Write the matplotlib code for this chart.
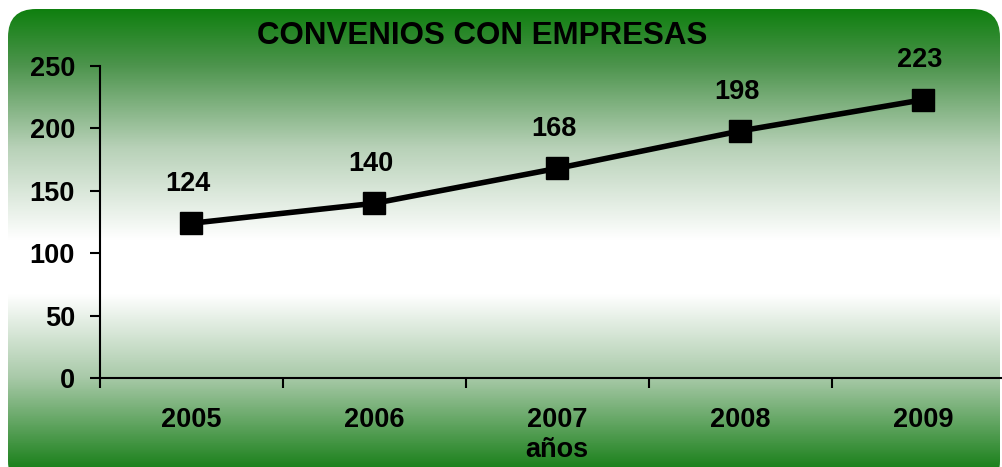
import numpy as np
import matplotlib
matplotlib.use("Agg")
import matplotlib.pyplot as plt
from matplotlib.patches import FancyBboxPatch
from matplotlib.colors import LinearSegmentedColormap

years = ["2005", "2006", "2007", "2008", "2009"]
values = [124, 140, 168, 198, 223]
yticks = [0, 50, 100, 150, 200, 250]
title = "CONVENIOS CON EMPRESAS"
xlabel = "años"

W, H = 1003, 467
fig = plt.figure(figsize=(W / 100, H / 100), dpi=100)
plt.rcParams['font.family'] = ['Liberation Sans', 'DejaVu Sans']
FS = 19.5

# background rounded gradient panel
bg = fig.add_axes([0, 0, 1, 1])
bg.set_xlim(0, W)
bg.set_ylim(H, 0)
bg.axis('off')
cmap = LinearSegmentedColormap.from_list(
    'g', [(0.0, (0.06, 0.50, 0.06)),
          (0.12, (0.30, 0.58, 0.30)),
          (0.30, (0.72, 0.82, 0.72)),
          (0.50, (1.0, 1.0, 1.0)),
          (0.62, (1.0, 1.0, 1.0)),
          (0.80, (0.66, 0.79, 0.66)),
          (1.0, (0.10, 0.50, 0.10))])
grad = np.linspace(0, 1, 256).reshape(-1, 1)
im = bg.imshow(grad, cmap=cmap, aspect='auto', extent=[8, 1000, 470, 9])
patch = FancyBboxPatch((8, 9), 992, 480, boxstyle="round,pad=0,rounding_size=28",
                       transform=bg.transData, facecolor='none', edgecolor='none')
bg.add_patch(patch)
im.set_clip_path(patch)

# main axes
left = 100 / W
right = 1015 / W
bottom = (H - 378) / H
top = (H - 66) / H
ax = fig.add_axes([left, bottom, right - left, top - bottom])
ax.patch.set_alpha(0)
x = np.arange(len(years))
ax.plot(x, values, color='black', lw=4, marker='s', ms=16.5, mfc='black', mec='black',
        clip_on=False, zorder=3)
for xi, v in zip(x, values):
    ax.annotate(str(v), (xi, v), xytext=(-2.5, 19), textcoords='offset points',
                ha='center', va='bottom', fontsize=FS, fontweight='bold')

ax.set_xlim(-0.5, 4.5)
ax.set_ylim(0, 250)
ax.set_yticks(yticks)
ax.set_yticklabels([str(t) for t in yticks], fontsize=FS, fontweight='bold')
ax.set_xticks(np.arange(-0.5, 5, 1))
ax.set_xticklabels([])
ax.set_xticks(x, minor=True)
ax.set_xticklabels(years, minor=True, fontsize=FS, fontweight='bold')
ax.tick_params(axis='x', which='minor', length=0, pad=21)
ax.tick_params(axis='x', which='major', direction='out', length=7, width=1.5)
ax.tick_params(axis='y', direction='out', length=7, width=1.5, pad=11)
for s in ['top', 'right']:
    ax.spines[s].set_visible(False)
for s in ['left', 'bottom']:
    ax.spines[s].set_linewidth(1.5)

fig.text(482.5 / W, 1 - 36 / H, title, ha='center', va='center',
         fontsize=22.5, fontweight='bold')
fig.text(557 / W, 1 - 450 / H, xlabel, ha='center', va='center',
         fontsize=FS, fontweight='bold')

fig.savefig("out.png", dpi=100)
